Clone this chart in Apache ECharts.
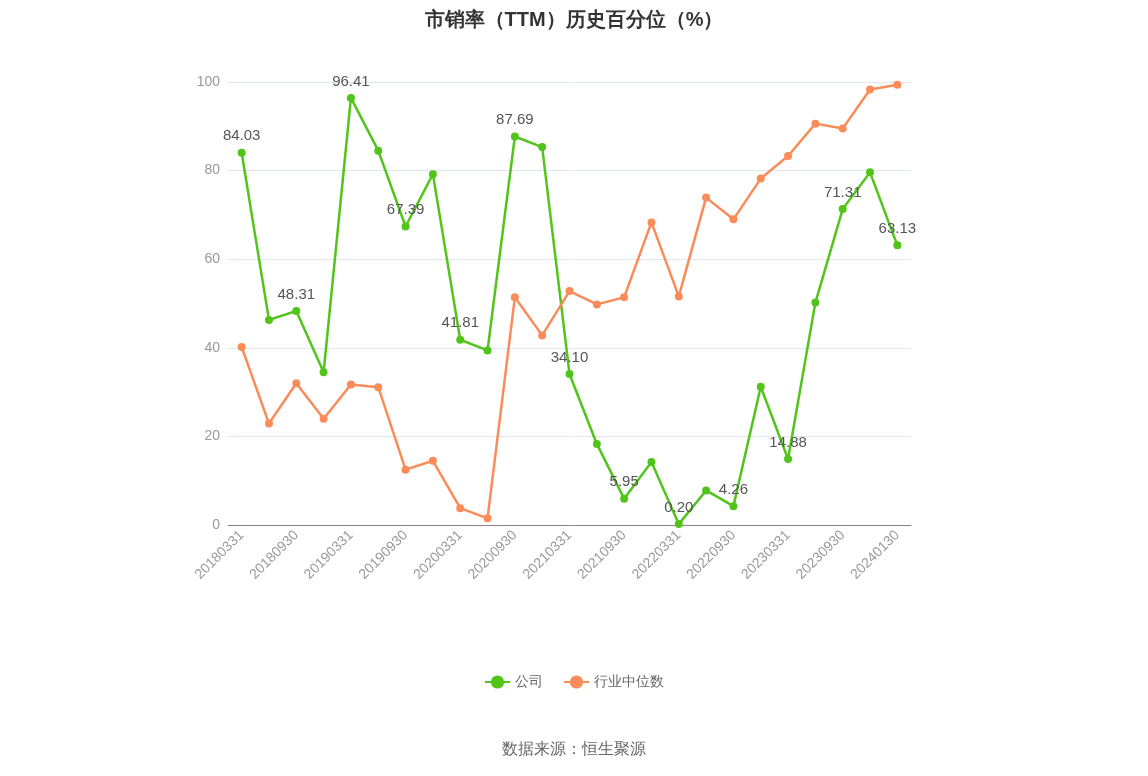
<!DOCTYPE html>
<html><head><meta charset="utf-8">
<script src="https://cdn.jsdelivr.net/npm/echarts@6/dist/echarts.min.js"></script>
<style>html,body{margin:0;padding:0;background:#fff}#c{width:1148px;height:776px}</style>
</head><body><div id="c"></div>
<script>
const categories=['20180331','20180630','20180930','20181231','20190331','20190630','20190930','20191231','20200331','20200630','20200930','20201231','20210331','20210630','20210930','20211231','20220331','20220630','20220930','20221231','20230331','20230630','20230930','20231231','20240130'];
const company=[84.03,46.3,48.31,34.5,96.41,84.5,67.39,79.2,41.81,39.4,87.69,85.3,34.10,18.3,5.95,14.2,0.20,7.8,4.26,31.2,14.88,50.2,71.31,79.6,63.13];
const industry=[40.2,22.9,32.0,24.0,31.7,31.1,12.5,14.5,3.8,1.5,51.4,42.8,52.8,49.8,51.4,68.3,51.6,73.9,69.0,78.2,83.3,90.6,89.5,98.3,99.4];
const labeled=[0,2,4,6,8,10,12,14,16,18,20,22,24];
const chart=echarts.init(document.getElementById('c'));
chart.setOption({
 title:{text:'市销率（TTM）历史百分位（%）',left:'center',top:5,textStyle:{fontSize:20,fontWeight:'bold',color:'#333'}},
 legend:{bottom:82,itemGap:20,textStyle:{fontSize:14,color:'#666'},data:['公司','行业中位数']},
 graphic:[{type:'text',left:'center',bottom:18,style:{text:'数据来源：恒生聚源',fontSize:16,fill:'#666'}}],
 grid:{left:228,right:237,top:82,bottom:251},
 xAxis:{type:'category',data:categories,axisTick:{alignWithLabel:true,interval:1},axisLine:{lineStyle:{color:'#888'}},
  axisLabel:{rotate:45,interval:1,fontSize:14,color:'#999'}},
 yAxis:{type:'value',min:0,max:100,interval:20,axisLabel:{fontSize:14,color:'#999'},splitLine:{lineStyle:{color:'#e0e6f1'}}},
 series:[
  {name:'公司',type:'line',data:company,symbol:'circle',symbolSize:6,itemStyle:{color:'#52c41a',borderWidth:2,borderColor:'#52c41a'},lineStyle:{width:2.5,color:'#52c41a'},
   label:{show:true,position:'top',fontSize:15,color:'#555',formatter:p=>labeled.includes(p.dataIndex)?p.value.toFixed(2):''},z:3},
  {name:'行业中位数',type:'line',data:industry,symbol:'circle',symbolSize:6,itemStyle:{color:'#fa8c5a',borderColor:'#fa8c5a',borderWidth:2},lineStyle:{width:2.5,color:'#fa8c5a'}}
 ]
});
</script></body></html>
